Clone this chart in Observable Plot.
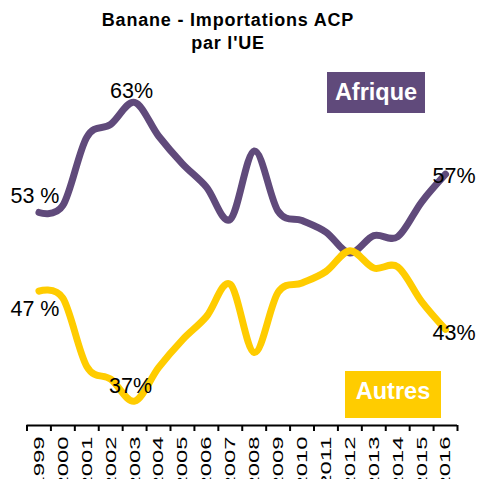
<!DOCTYPE html>
<html>
<head>
<meta charset="utf-8">
<script src="https://cdn.jsdelivr.net/npm/d3@7"></script>
<script src="https://cdn.jsdelivr.net/npm/@observablehq/plot@0.6"></script>
<style>
  body { margin: 0; background: #fff; font-family: "Liberation Sans", Arial, sans-serif; }
  #wrap { position: relative; width: 477px; height: 479px; overflow: hidden; background: #fff; }
  #title { height: 60px; box-sizing: border-box; padding-top: 9.3px; width: 456px; text-align: center;
           font-weight: bold; font-size: 18px; line-height: 23px; letter-spacing: 0.8px; color: #000; }
  .lg { position: absolute; color: #fff; font-weight: bold; font-size: 23.5px; box-sizing: border-box;
        display: flex; align-items: center; justify-content: center; }
</style>
</head>
<body>
<div id="wrap">
  <div id="title">Banane - Importations ACP<br>par l'UE</div>
  <div id="chart"></div>
  <div class="lg" id="lgA" style="left:327px;top:72px;width:98px;height:41px;"></div>
  <div class="lg" id="lgB" style="left:345px;top:371px;width:96px;height:47px;padding-bottom:7px;"></div>
</div>
<script>
// ---- data ----
const years = [1999, 2000, 2001, 2002, 2003, 2004, 2005, 2006, 2007, 2008, 2009, 2010, 2011, 2012, 2013, 2014, 2015, 2016];
const afrique = [53.4, 54.0, 59.9, 61.0, 62.9, 60.0, 57.6, 55.6, 52.8, 58.7, 53.5, 52.7, 51.7, 49.9, 51.4, 51.3, 54.3, 56.7];
const autres  = [46.6, 46.0, 40.1, 39.0, 37.1, 40.0, 42.4, 44.4, 47.2, 41.3, 46.5, 47.3, 48.3, 50.1, 48.6, 48.7, 45.7, 43.3];
const seriesNames = ["Afrique", "Autres"];
const seriesColors = ["#604a7b", "#ffcc00"];
const labelYears = [1999, 2003, 2016];
const afriqueLabels = ["53 %", "63%", "57%"];
const autresLabels = ["47 %", "37%", "43%"];

// ---- tables ----
const dataA = years.map((y, i) => ({year: y, value: afrique[i]}));
const dataB = years.map((y, i) => ({year: y, value: autres[i]}));
const boundaries = years.map(y => y - 0.5).concat([years[years.length - 1] + 0.5]);

const offA = [[-4, -16], [-3, -11], [8.5, 2]];
const offB = [[-4, 18], [-4, -15], [8.5, 3.5]];

function labelMarks(data, texts, offs) {
  return labelYears.map((yr, k) => {
    const d = data.find(r => r.year === yr);
    return Plot.text([d], {x: "year", y: "value", text: () => texts[k], dx: offs[k][0], dy: offs[k][1],
      fontSize: 21.5, fill: "#000", textAnchor: "middle"});
  });
}

const svg = Plot.plot({
  width: 477,
  height: 419,
  marginLeft: 26.5,
  marginRight: 20,
  marginTop: 17.6,
  marginBottom: 54,
  style: {fontFamily: "'Liberation Sans', Arial, sans-serif", background: "transparent", overflow: "visible"},
  x: {type: "linear", domain: [years[0] - 0.5, years[years.length - 1] + 0.5], label: null},
  y: {domain: [35, 65], axis: null, label: null},
  marks: [
    Plot.ruleY([35], {stroke: "#000", strokeWidth: 2}),
    Plot.axisX({ticks: boundaries, tickSize: 6, tickFormat: () => "", color: "#000", strokeWidth: 2, label: null}),
    Plot.axisX({ticks: years, tickSize: 0, tickPadding: 11, tickRotate: -90, tickFormat: d => String(d),
      fontSize: 15.4, color: "#000", label: null}),
    Plot.line(dataA, {x: "year", y: "value", stroke: seriesColors[0], strokeWidth: 7, curve: "cardinal",
      strokeLinecap: "round", strokeLinejoin: "round"}),
    Plot.line(dataB, {x: "year", y: "value", stroke: seriesColors[1], strokeWidth: 7, curve: "cardinal",
      strokeLinecap: "round", strokeLinejoin: "round"}),
    ...labelMarks(dataA, afriqueLabels, offA),
    ...labelMarks(dataB, autresLabels, offB)
  ]
});

// stretch the year labels along their reading direction, like the reference
d3.select(svg).selectAll("text")
  .filter(function () { return /^\d{4}$/.test(this.textContent); })
  .attr("transform", function () { return (this.getAttribute("transform") || "") + " scale(1.55,1)"; });

document.getElementById("chart").appendChild(svg);

const lgA = document.getElementById("lgA");
lgA.textContent = seriesNames[0];
lgA.style.background = seriesColors[0];
const lgB = document.getElementById("lgB");
lgB.textContent = seriesNames[1];
lgB.style.background = seriesColors[1];
</script>
</body>
</html>
